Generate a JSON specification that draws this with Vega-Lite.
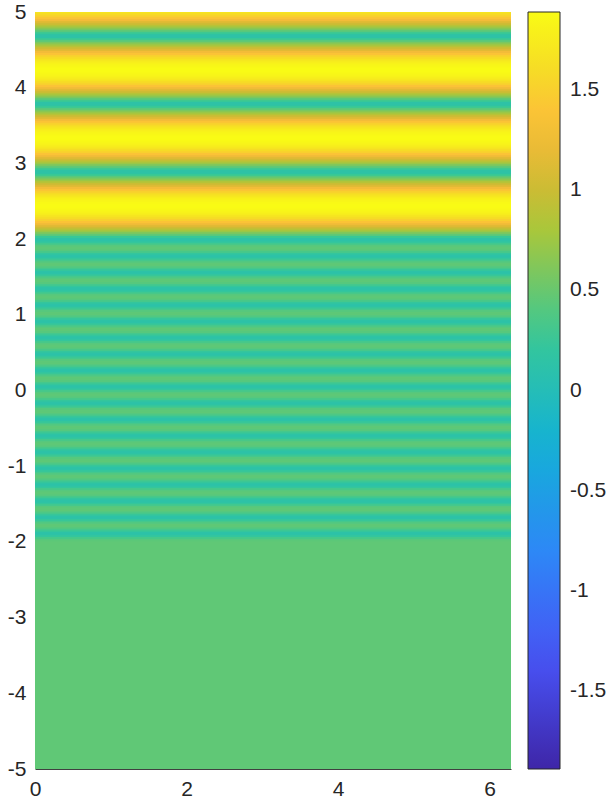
{
"$schema": "https://vega.github.io/schema/vega-lite/v6.json",
"width": 476, "height": 757,
"autosize": {"type": "none"},
"padding": {"left": 35, "top": 12, "right": 99, "bottom": 39},
"background": "white",
"config": {"view": {"stroke": null}, "font": "Liberation Sans"},
"data": {"values": [
{"a":-5,"b":-2,"v":0.4587},
{"a":-2,"b":-1.9784,"v":0.4534},{"a":-1.9784,"b":-1.9569,"v":0.4117},{"a":-1.9569,"b":-1.9353,"v":0.3336},{"a":-1.9353,"b":-1.9137,"v":0.2302},{"a":-1.9137,"b":-1.8922,"v":0.1304},{"a":-1.8922,"b":-1.8706,"v":0.1304},{"a":-1.8706,"b":-1.8491,"v":0.2302},{"a":-1.8491,"b":-1.8275,"v":0.3336},{"a":-1.8275,"b":-1.8059,"v":0.4117},{"a":-1.8059,"b":-1.7844,"v":0.4534},
{"a":-1.7844,"b":-1.7628,"v":0.4534},{"a":-1.7628,"b":-1.7413,"v":0.4117},{"a":-1.7413,"b":-1.7197,"v":0.3336},{"a":-1.7197,"b":-1.6981,"v":0.2302},{"a":-1.6981,"b":-1.6766,"v":0.1304},{"a":-1.6766,"b":-1.655,"v":0.1304},{"a":-1.655,"b":-1.6335,"v":0.2302},{"a":-1.6335,"b":-1.6119,"v":0.3336},{"a":-1.6119,"b":-1.5903,"v":0.4117},{"a":-1.5903,"b":-1.5687,"v":0.4534},
{"a":-1.5687,"b":-1.5471,"v":0.4534},{"a":-1.5471,"b":-1.5256,"v":0.4117},{"a":-1.5256,"b":-1.504,"v":0.3336},{"a":-1.504,"b":-1.4824,"v":0.2302},{"a":-1.4824,"b":-1.4609,"v":0.1304},{"a":-1.4609,"b":-1.4393,"v":0.1304},{"a":-1.4393,"b":-1.4178,"v":0.2302},{"a":-1.4178,"b":-1.3962,"v":0.3336},{"a":-1.3962,"b":-1.3746,"v":0.4117},{"a":-1.3746,"b":-1.3531,"v":0.4534},
{"a":-1.3531,"b":-1.3315,"v":0.4534},{"a":-1.3315,"b":-1.31,"v":0.4117},{"a":-1.31,"b":-1.2884,"v":0.3336},{"a":-1.2884,"b":-1.2668,"v":0.2302},{"a":-1.2668,"b":-1.2453,"v":0.1304},{"a":-1.2453,"b":-1.2237,"v":0.1304},{"a":-1.2237,"b":-1.2022,"v":0.2302},{"a":-1.2022,"b":-1.1806,"v":0.3336},{"a":-1.1806,"b":-1.159,"v":0.4117},{"a":-1.159,"b":-1.1375,"v":0.4534},
{"a":-1.1375,"b":-1.1159,"v":0.4534},{"a":-1.1159,"b":-1.0944,"v":0.4117},{"a":-1.0944,"b":-1.0728,"v":0.3336},{"a":-1.0728,"b":-1.0512,"v":0.2302},{"a":-1.0512,"b":-1.0297,"v":0.1304},{"a":-1.0297,"b":-1.0081,"v":0.1304},{"a":-1.0081,"b":-0.9866,"v":0.2302},{"a":-0.9866,"b":-0.965,"v":0.3336},{"a":-0.965,"b":-0.9434,"v":0.4117},{"a":-0.9434,"b":-0.9218,"v":0.4534},
{"a":-0.9218,"b":-0.9002,"v":0.4534},{"a":-0.9002,"b":-0.8787,"v":0.4117},{"a":-0.8787,"b":-0.8571,"v":0.3336},{"a":-0.8571,"b":-0.8355,"v":0.2302},{"a":-0.8355,"b":-0.814,"v":0.1304},{"a":-0.814,"b":-0.7924,"v":0.1304},{"a":-0.7924,"b":-0.7709,"v":0.2302},{"a":-0.7709,"b":-0.7493,"v":0.3336},{"a":-0.7493,"b":-0.7277,"v":0.4117},{"a":-0.7277,"b":-0.7062,"v":0.4534},
{"a":-0.7062,"b":-0.6846,"v":0.4534},{"a":-0.6846,"b":-0.6631,"v":0.4117},{"a":-0.6631,"b":-0.6415,"v":0.3336},{"a":-0.6415,"b":-0.6199,"v":0.2302},{"a":-0.6199,"b":-0.5984,"v":0.1304},{"a":-0.5984,"b":-0.5768,"v":0.1304},{"a":-0.5768,"b":-0.5553,"v":0.2302},{"a":-0.5553,"b":-0.5337,"v":0.3336},{"a":-0.5337,"b":-0.5121,"v":0.4117},{"a":-0.5121,"b":-0.4905,"v":0.4534},
{"a":-0.4905,"b":-0.4689,"v":0.4534},{"a":-0.4689,"b":-0.4474,"v":0.4117},{"a":-0.4474,"b":-0.4258,"v":0.3336},{"a":-0.4258,"b":-0.4042,"v":0.2302},{"a":-0.4042,"b":-0.3827,"v":0.1304},{"a":-0.3827,"b":-0.3611,"v":0.1304},{"a":-0.3611,"b":-0.3396,"v":0.2302},{"a":-0.3396,"b":-0.318,"v":0.3336},{"a":-0.318,"b":-0.2964,"v":0.4117},{"a":-0.2964,"b":-0.2749,"v":0.4534},
{"a":-0.2749,"b":-0.2533,"v":0.4534},{"a":-0.2533,"b":-0.2318,"v":0.4117},{"a":-0.2318,"b":-0.2102,"v":0.3336},{"a":-0.2102,"b":-0.1886,"v":0.2302},{"a":-0.1886,"b":-0.1671,"v":0.1304},{"a":-0.1671,"b":-0.1455,"v":0.1304},{"a":-0.1455,"b":-0.124,"v":0.2302},{"a":-0.124,"b":-0.1024,"v":0.3336},{"a":-0.1024,"b":-0.0808,"v":0.4117},{"a":-0.0808,"b":-0.0593,"v":0.4534},
{"a":-0.0593,"b":-0.0377,"v":0.4534},{"a":-0.0377,"b":-0.0162,"v":0.4117},{"a":-0.0162,"b":0.0054,"v":0.3336},{"a":0.0054,"b":0.027,"v":0.2302},{"a":0.027,"b":0.0485,"v":0.1304},{"a":0.0485,"b":0.0701,"v":0.1304},{"a":0.0701,"b":0.0916,"v":0.2302},{"a":0.0916,"b":0.1132,"v":0.3336},{"a":0.1132,"b":0.1348,"v":0.4117},{"a":0.1348,"b":0.1564,"v":0.4534},
{"a":0.1564,"b":0.178,"v":0.4534},{"a":0.178,"b":0.1995,"v":0.4117},{"a":0.1995,"b":0.2211,"v":0.3336},{"a":0.2211,"b":0.2427,"v":0.2302},{"a":0.2427,"b":0.2642,"v":0.1304},{"a":0.2642,"b":0.2858,"v":0.1304},{"a":0.2858,"b":0.3073,"v":0.2302},{"a":0.3073,"b":0.3289,"v":0.3336},{"a":0.3289,"b":0.3505,"v":0.4117},{"a":0.3505,"b":0.372,"v":0.4534},
{"a":0.372,"b":0.3936,"v":0.4534},{"a":0.3936,"b":0.4151,"v":0.4117},{"a":0.4151,"b":0.4367,"v":0.3336},{"a":0.4367,"b":0.4583,"v":0.2302},{"a":0.4583,"b":0.4798,"v":0.1304},{"a":0.4798,"b":0.5014,"v":0.1304},{"a":0.5014,"b":0.5229,"v":0.2302},{"a":0.5229,"b":0.5445,"v":0.3336},{"a":0.5445,"b":0.5661,"v":0.4117},{"a":0.5661,"b":0.5876,"v":0.4534},
{"a":0.5876,"b":0.6092,"v":0.4534},{"a":0.6092,"b":0.6307,"v":0.4117},{"a":0.6307,"b":0.6523,"v":0.3336},{"a":0.6523,"b":0.6739,"v":0.2302},{"a":0.6739,"b":0.6954,"v":0.1304},{"a":0.6954,"b":0.717,"v":0.1304},{"a":0.717,"b":0.7385,"v":0.2302},{"a":0.7385,"b":0.7601,"v":0.3336},{"a":0.7601,"b":0.7817,"v":0.4117},{"a":0.7817,"b":0.8033,"v":0.4534},
{"a":0.8033,"b":0.8249,"v":0.4534},{"a":0.8249,"b":0.8464,"v":0.4117},{"a":0.8464,"b":0.868,"v":0.3336},{"a":0.868,"b":0.8896,"v":0.2302},{"a":0.8896,"b":0.9111,"v":0.1304},{"a":0.9111,"b":0.9327,"v":0.1304},{"a":0.9327,"b":0.9542,"v":0.2302},{"a":0.9542,"b":0.9758,"v":0.3336},{"a":0.9758,"b":0.9974,"v":0.4117},{"a":0.9974,"b":1.0189,"v":0.4534},
{"a":1.0189,"b":1.0405,"v":0.4534},{"a":1.0405,"b":1.062,"v":0.4117},{"a":1.062,"b":1.0836,"v":0.3336},{"a":1.0836,"b":1.1052,"v":0.2302},{"a":1.1052,"b":1.1267,"v":0.1304},{"a":1.1267,"b":1.1483,"v":0.1304},{"a":1.1483,"b":1.1698,"v":0.2302},{"a":1.1698,"b":1.1914,"v":0.3336},{"a":1.1914,"b":1.213,"v":0.4117},{"a":1.213,"b":1.2345,"v":0.4534},
{"a":1.2345,"b":1.2561,"v":0.4534},{"a":1.2561,"b":1.2776,"v":0.4117},{"a":1.2776,"b":1.2992,"v":0.3336},{"a":1.2992,"b":1.3208,"v":0.2302},{"a":1.3208,"b":1.3423,"v":0.1304},{"a":1.3423,"b":1.3639,"v":0.1304},{"a":1.3639,"b":1.3854,"v":0.2302},{"a":1.3854,"b":1.407,"v":0.3336},{"a":1.407,"b":1.4286,"v":0.4117},{"a":1.4286,"b":1.4502,"v":0.4534},
{"a":1.4502,"b":1.4718,"v":0.4534},{"a":1.4718,"b":1.4933,"v":0.4117},{"a":1.4933,"b":1.5149,"v":0.3336},{"a":1.5149,"b":1.5365,"v":0.2302},{"a":1.5365,"b":1.558,"v":0.1304},{"a":1.558,"b":1.5796,"v":0.1304},{"a":1.5796,"b":1.6011,"v":0.2302},{"a":1.6011,"b":1.6227,"v":0.3336},{"a":1.6227,"b":1.6443,"v":0.4117},{"a":1.6443,"b":1.6658,"v":0.4534},
{"a":1.6658,"b":1.6874,"v":0.4534},{"a":1.6874,"b":1.7089,"v":0.4117},{"a":1.7089,"b":1.7305,"v":0.3336},{"a":1.7305,"b":1.7521,"v":0.2302},{"a":1.7521,"b":1.7736,"v":0.1304},{"a":1.7736,"b":1.7952,"v":0.1304},{"a":1.7952,"b":1.8167,"v":0.2302},{"a":1.8167,"b":1.8383,"v":0.3336},{"a":1.8383,"b":1.8599,"v":0.4117},{"a":1.8599,"b":1.8814,"v":0.4534},
{"a":1.8814,"b":1.903,"v":0.4534},{"a":1.903,"b":1.9245,"v":0.4117},{"a":1.9245,"b":1.9461,"v":0.3336},{"a":1.9461,"b":1.9677,"v":0.2302},{"a":1.9677,"b":1.9892,"v":0.1304},{"a":1.9892,"b":2.0,"v":0.1304},
{"a":2.0,"b":2.0148,"v":0.1385},{"a":2.0148,"b":2.0398,"v":0.2701},{"a":2.0398,"b":2.0647,"v":0.423},{"a":2.0647,"b":2.0896,"v":0.5777},{"a":2.0896,"b":2.1146,"v":0.73},{"a":2.1146,"b":2.1395,"v":0.8776},{"a":2.1395,"b":2.1644,"v":1.019},{"a":2.1644,"b":2.1894,"v":1.153},{"a":2.1894,"b":2.2143,"v":1.2785},{"a":2.2143,"b":2.2392,"v":1.3944},{"a":2.2392,"b":2.2642,"v":1.4998},{"a":2.2642,"b":2.2891,"v":1.5939},{"a":2.2891,"b":2.314,"v":1.6759},{"a":2.314,"b":2.339,"v":1.7453},{"a":2.339,"b":2.3639,"v":1.8014},{"a":2.3639,"b":2.3888,"v":1.8439},{"a":2.3888,"b":2.4138,"v":1.8724},{"a":2.4138,"b":2.4387,"v":1.8867},{"a":2.4387,"b":2.4636,"v":1.8867},{"a":2.4636,"b":2.4886,"v":1.8724},{"a":2.4886,"b":2.5135,"v":1.8439},{"a":2.5135,"b":2.5384,"v":1.8014},{"a":2.5384,"b":2.5634,"v":1.7453},{"a":2.5634,"b":2.5883,"v":1.6759},{"a":2.5883,"b":2.6132,"v":1.5939},{"a":2.6132,"b":2.6382,"v":1.4998},{"a":2.6382,"b":2.6631,"v":1.3944},{"a":2.6631,"b":2.688,"v":1.2785},{"a":2.688,"b":2.713,"v":1.153},{"a":2.713,"b":2.7379,"v":1.019},{"a":2.7379,"b":2.7628,"v":0.8776},{"a":2.7628,"b":2.7878,"v":0.73},{"a":2.7878,"b":2.8127,"v":0.5777},{"a":2.8127,"b":2.8376,"v":0.423},{"a":2.8376,"b":2.8626,"v":0.2701},{"a":2.8626,"b":2.8875,"v":0.1385},
{"a":2.8875,"b":2.9124,"v":0.1385},{"a":2.9124,"b":2.9374,"v":0.2701},{"a":2.9374,"b":2.9623,"v":0.423},{"a":2.9623,"b":2.9872,"v":0.5777},{"a":2.9872,"b":3.0122,"v":0.73},{"a":3.0122,"b":3.0371,"v":0.8776},{"a":3.0371,"b":3.062,"v":1.019},{"a":3.062,"b":3.087,"v":1.153},{"a":3.087,"b":3.1119,"v":1.2785},{"a":3.1119,"b":3.1368,"v":1.3944},{"a":3.1368,"b":3.1618,"v":1.4998},{"a":3.1618,"b":3.1867,"v":1.5939},{"a":3.1867,"b":3.2116,"v":1.6759},{"a":3.2116,"b":3.2366,"v":1.7453},{"a":3.2366,"b":3.2615,"v":1.8014},{"a":3.2615,"b":3.2864,"v":1.8439},{"a":3.2864,"b":3.3114,"v":1.8724},{"a":3.3114,"b":3.3363,"v":1.8867},{"a":3.3363,"b":3.3612,"v":1.8867},{"a":3.3612,"b":3.3862,"v":1.8724},{"a":3.3862,"b":3.4111,"v":1.8439},{"a":3.4111,"b":3.436,"v":1.8014},{"a":3.436,"b":3.461,"v":1.7453},{"a":3.461,"b":3.4859,"v":1.6759},{"a":3.4859,"b":3.5108,"v":1.5939},{"a":3.5108,"b":3.5358,"v":1.4998},{"a":3.5358,"b":3.5607,"v":1.3944},{"a":3.5607,"b":3.5856,"v":1.2785},{"a":3.5856,"b":3.6106,"v":1.153},{"a":3.6106,"b":3.6355,"v":1.019},{"a":3.6355,"b":3.6604,"v":0.8776},{"a":3.6604,"b":3.6854,"v":0.73},{"a":3.6854,"b":3.7103,"v":0.5777},{"a":3.7103,"b":3.7352,"v":0.423},{"a":3.7352,"b":3.7602,"v":0.2701},{"a":3.7602,"b":3.7851,"v":0.1385},
{"a":3.7851,"b":3.81,"v":0.1385},{"a":3.81,"b":3.835,"v":0.2701},{"a":3.835,"b":3.8599,"v":0.423},{"a":3.8599,"b":3.8848,"v":0.5777},{"a":3.8848,"b":3.9098,"v":0.73},{"a":3.9098,"b":3.9347,"v":0.8776},{"a":3.9347,"b":3.9596,"v":1.019},{"a":3.9596,"b":3.9846,"v":1.153},{"a":3.9846,"b":4.0095,"v":1.2785},{"a":4.0095,"b":4.0344,"v":1.3944},{"a":4.0344,"b":4.0594,"v":1.4998},{"a":4.0594,"b":4.0843,"v":1.5939},{"a":4.0843,"b":4.1092,"v":1.6759},{"a":4.1092,"b":4.1342,"v":1.7453},{"a":4.1342,"b":4.1591,"v":1.8014},{"a":4.1591,"b":4.184,"v":1.8439},{"a":4.184,"b":4.209,"v":1.8724},{"a":4.209,"b":4.2339,"v":1.8867},{"a":4.2339,"b":4.2588,"v":1.8867},{"a":4.2588,"b":4.2838,"v":1.8724},{"a":4.2838,"b":4.3087,"v":1.8439},{"a":4.3087,"b":4.3336,"v":1.8014},{"a":4.3336,"b":4.3586,"v":1.7453},{"a":4.3586,"b":4.3835,"v":1.6759},{"a":4.3835,"b":4.4084,"v":1.5939},{"a":4.4084,"b":4.4334,"v":1.4998},{"a":4.4334,"b":4.4583,"v":1.3944},{"a":4.4583,"b":4.4832,"v":1.2785},{"a":4.4832,"b":4.5082,"v":1.153},{"a":4.5082,"b":4.5331,"v":1.019},{"a":4.5331,"b":4.558,"v":0.8776},{"a":4.558,"b":4.583,"v":0.73},{"a":4.583,"b":4.6079,"v":0.5777},{"a":4.6079,"b":4.6328,"v":0.423},{"a":4.6328,"b":4.6578,"v":0.2701},{"a":4.6578,"b":4.6827,"v":0.1385},
{"a":4.6827,"b":4.7076,"v":0.1385},{"a":4.7076,"b":4.7326,"v":0.2701},{"a":4.7326,"b":4.7575,"v":0.423},{"a":4.7575,"b":4.7824,"v":0.5777},{"a":4.7824,"b":4.8074,"v":0.73},{"a":4.8074,"b":4.8323,"v":0.8776},{"a":4.8323,"b":4.8572,"v":1.019},{"a":4.8572,"b":4.8822,"v":1.153},{"a":4.8822,"b":4.9071,"v":1.2785},{"a":4.9071,"b":4.932,"v":1.3944},{"a":4.932,"b":4.957,"v":1.4998},{"a":4.957,"b":4.9819,"v":1.5939},{"a":4.9819,"b":5.0,"v":1.6759}
]},
"mark": {"type": "rect", "y2Offset": -0.8, "clip": true},
"encoding": {
  "x": {"datum": 0, "type": "quantitative",
        "scale": {"domain": [0, 6.2832], "nice": false, "zero": false},
        "axis": {"title": null, "values": [0, 2, 4, 6], "labelFontSize": 21, "labelColor": "#262626", "ticks": false, "labelPadding": 9, "domain": true, "domainColor": "#404040", "domainWidth": 1, "grid": false, "labelFlush": false}},
  "x2": {"datum": 6.2832},
  "y": {"field": "a", "type": "quantitative",
        "scale": {"domain": [-5, 5], "nice": false, "zero": false},
        "axis": {"title": null, "values": [-5, -4, -3, -2, -1, 0, 1, 2, 3, 4, 5], "labelFontSize": 21, "labelColor": "#262626", "ticks": false, "labelPadding": 9, "domain": false, "grid": false, "labelFlush": false,
                 "labelExpr": "datum.value < 0 ? '-' + format(-datum.value, '') : format(datum.value, '')"}},
  "y2": {"field": "b"},
  "color": {"field": "v", "type": "quantitative",
            "scale": {"domain": [-1.8886, -1.349, -0.8094, -0.2698, 0.2698, 0.8094, 1.0803, 1.349, 1.6204, 1.8886],
                      "range": ["#3E26A8", "#4852F4", "#2D87F7", "#12B1D6", "#37C897", "#ABC739", "#D9B832", "#FCBE3A", "#F5DE24", "#F9FB15"],
                      "interpolate": "rgb"},
            "legend": {"type": "gradient", "orient": "none", "legendX": 493, "legendY": 0, "direction": "vertical", "gradientLength": 757, "gradientThickness": 32, "title": null,
                       "values": [-1.5, -1, -0.5, 0, 0.5, 1, 1.5], "labelFontSize": 21, "labelColor": "#262626", "labelOffset": 10,
                       "gradientStrokeColor": "#262626", "gradientStrokeWidth": 1, "padding": 0, "labelOverlap": false,
                       "labelExpr": "datum.value < 0 ? '-' + format(-datum.value, '') : format(datum.value, '')"}}
}
}
